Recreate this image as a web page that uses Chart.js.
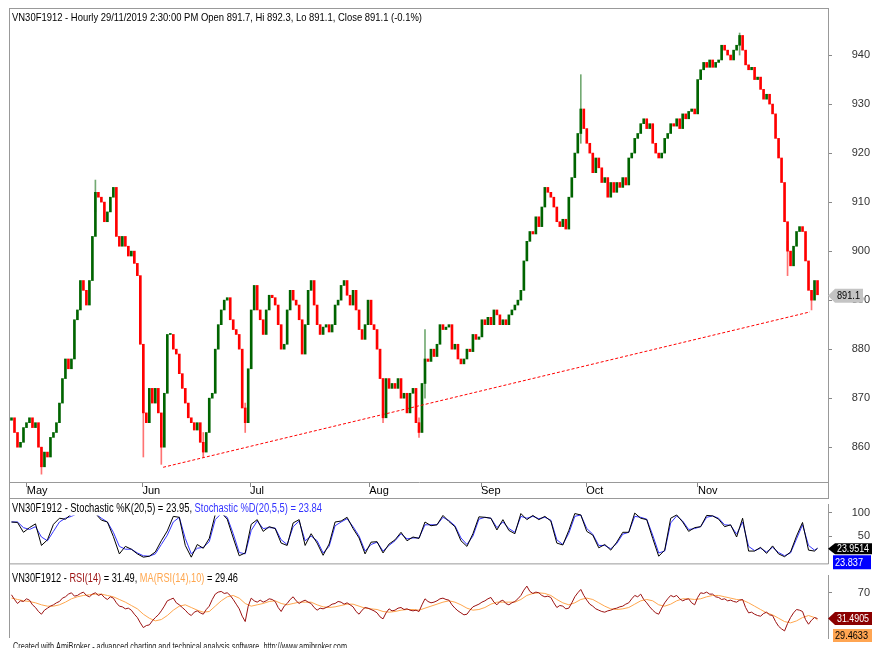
<!DOCTYPE html>
<html>
<head>
<meta charset="utf-8">
<script src="https://cdn.jsdelivr.net/npm/chart.js@4.4.1/dist/chart.umd.min.js"></script>
<style>
html, body { margin: 0; padding: 0; background: #fff; }
#wrap { position: relative; width: 881px; height: 648px; overflow: hidden; background: #fff; }
.pane { position: absolute; left: 0; width: 881px; }
</style>
</head>
<body>
<div id="wrap">
  <div class="pane" style="top:0;height:499px"><canvas id="priceChart"></canvas></div>
  <div class="pane" style="top:498px;height:72px"><canvas id="stochChart"></canvas></div>
  <div class="pane" style="top:569px;height:79px"><canvas id="rsiChart"></canvas></div>
</div>
<script>
// hourly bars, one entry per bar
const firstOpen = 865.5;
const closes = [
  866, 863, 860, 861, 864, 865, 866, 864, 865, 860,
  856, 859, 858, 862, 863, 865, 869, 874, 878, 876,
  878, 886, 888, 894, 892, 889, 894, 903, 912, 911,
  910, 906, 908, 911, 913, 903, 901, 903, 901, 899,
  900, 897.5, 895, 881, 867, 865, 872, 869, 872, 867,
  860, 871, 883, 883, 880, 879, 875, 872, 869, 866,
  865, 863.5, 865, 861, 859, 863, 870, 871, 880, 885,
  888, 890, 890.5, 886, 884, 883, 880, 868, 865, 876,
  888, 893, 888, 886, 883, 888, 891, 890.5, 889, 885,
  880, 881, 888, 892, 890, 889, 886, 879, 885, 892,
  894, 889, 885, 883, 884.5, 885, 883.5, 885, 889, 890,
  893, 894, 891, 889, 892, 888, 884, 882, 885, 890,
  885, 884, 880, 874, 866, 874, 872, 873, 872, 874,
  870, 871, 867, 871, 872, 865, 863, 873, 878, 877.5,
  880, 878.5, 881, 885, 884, 884.5, 885, 880, 881, 878,
  877, 878, 880, 879.5, 883, 882, 882.5, 886, 885, 886.5,
  885, 888, 887, 885, 886, 885, 887, 888, 889, 890,
  892, 898, 902, 904, 903.5, 907, 905, 909, 913, 912,
  911, 909, 906, 905, 906.5, 904.5, 911, 915, 920, 924,
  929, 925, 922, 920, 916, 919, 917, 914, 915, 911,
  914, 912, 914, 913, 915, 913.5, 919, 920, 923, 924,
  926, 927, 925, 926, 922, 920, 919, 920, 923, 924,
  926, 925.5, 927, 925, 928, 927, 928.5, 929, 928, 935,
  937, 938.5, 937.5, 939, 937.5, 938.5, 939, 942, 941, 940,
  939, 941, 942, 944, 941, 938, 937, 937.5, 935, 935.5,
  933, 931, 932, 930, 928, 923, 919, 914, 906, 900,
  897, 901, 904, 905, 904, 898, 892, 890, 894, 891.1
];

// the longer wicks that stand out
const wickBars = [10, 28, 44, 50, 64, 78, 124, 136, 138, 190, 243, 259, 267];
const wickHi   = [860, 914.5, 872, 862, 863, 869, 874, 866, 884, 936, 944.5, 902, 892];
const wickLo   = [854.5, 908, 858, 856.5, 858, 863, 865, 862, 870, 922, 940, 895, 888];

const monthLabels = ['May', 'Jun', 'Jul', 'Aug', 'Sep', 'Oct', 'Nov'];
const monthBars = [5.1, 43.7, 79.6, 119.4, 156.7, 191.8, 229.1];
const priceTicks = [860, 870, 880, 890, 900, 910, 920, 930, 940];

// support line
const trendBars = [50.6, 266.5];
const trendVals = [855.9, 887.6];

// stochastic, sampled every second bar plus the last bar
const stochK = [
  80, 79, 58, 68, 76, 30, 42, 75, 88, 86,
  97, 100, 96, 102, 98, 84, 80, 49, 12, 28,
  22, 12, 5, 7, 16, 40, 61, 92, 90, 30,
  5, 32, 24, 45, 96, 100, 86, 46, 8, 14,
  75, 85, 60, 70, 66, 35, 30, 78, 85, 30,
  55, 35, 9, 33, 80, 82, 90, 66, 46, 12,
  37, 38, 14, 33, 42, 58, 40, 48, 45, 80,
  72, 74, 94, 81, 70, 40, 28, 55, 91, 90,
  88, 63, 85, 62, 55, 98, 85, 94, 85, 92,
  82, 35, 31, 62, 98, 95, 60, 52, 25, 32,
  20, 37, 58, 58, 99, 88, 85, 45, 7, 20,
  88, 95, 80, 60, 68, 70, 94, 93, 86, 70,
  74, 48, 88, 18, 18, 26, 13, 29, 12, 6,
  16, 50, 79, 20, 18, 23.95
];
const stochD = [
  80, 80, 68, 64, 70, 48, 40, 60, 80, 88,
  92, 98, 98, 99, 98, 88, 80, 58, 28, 22,
  22, 14, 8, 7, 12, 32, 52, 80, 90, 45,
  12, 24, 26, 38, 85, 98, 90, 55, 15, 12,
  62, 82, 66, 68, 67, 42, 32, 70, 82, 40,
  50, 40, 14, 28, 72, 80, 87, 70, 50, 18,
  32, 37, 18, 30, 40, 55, 44, 46, 46, 74,
  74, 74, 90, 83, 72, 46, 32, 50, 86, 90,
  88, 68, 80, 66, 58, 92, 88, 92, 87, 90,
  84, 42, 32, 56, 92, 95, 66, 54, 30, 30,
  23, 34, 54, 58, 92, 90, 86, 52, 14, 18,
  78, 93, 82, 64, 66, 70, 90, 93, 88, 74,
  73, 54, 80, 28, 19, 24, 16, 26, 15, 8,
  14, 44, 74, 30, 20, 23.84
];
const stochTicks = [50, 100];

// RSI(14), one value per bar
const rsi = [
  67, 60, 54, 58, 57, 61, 59, 52, 48, 42,
  38, 44, 47, 50, 52, 55, 57, 62, 64, 68,
  70, 65, 66, 69, 71, 66, 64, 68, 70, 66,
  68, 63, 60, 64, 62, 55, 50, 49, 46, 47,
  44, 38, 33, 25, 18, 21, 22, 28, 33, 37,
  43, 50, 58, 60, 62, 55, 52, 48, 44, 39,
  36, 41, 43, 40, 38, 45, 50, 60, 68, 71,
  72, 69, 70, 66, 60, 53, 46, 35, 27, 50,
  62, 58, 56, 59, 56, 58, 61, 60, 57, 48,
  42, 50, 54, 60, 64, 58, 54, 57, 59, 56,
  54, 48, 44, 47, 46, 48, 50, 53, 54, 57,
  56, 53, 55, 52, 49, 42, 38, 44, 48, 47,
  45, 43, 40, 34, 31, 40, 46, 43, 44, 47,
  48, 45, 46, 44, 43, 44, 42, 52, 61, 57,
  55, 56, 58, 61, 62, 60, 59, 52, 47, 43,
  40, 37, 38, 44, 49, 51, 53, 56, 58, 61,
  63, 56, 52, 57, 59, 54, 52, 55, 57, 61,
  66, 74, 80, 72, 69, 71, 70, 66, 64, 65,
  63, 55, 48, 51, 50, 46, 47, 55, 64, 70,
  75, 66, 59, 53, 50, 46, 44, 42, 41, 43,
  44, 46, 47, 49, 50, 53, 55, 61, 66, 64,
  68, 60, 55, 49, 44, 40, 38, 47, 55, 61,
  66, 64, 66, 61, 58, 60, 61, 55, 52, 63,
  70, 69, 71, 68, 68, 64, 63, 60, 61, 58,
  59, 57, 56, 59, 60, 48, 40, 41, 38, 36,
  35, 39, 41, 37, 36, 27, 20, 16, 13, 24,
  33, 40, 45, 44, 42, 30, 23, 29, 33, 31.49
];
// MA(RSI(14),10), sampled like the stochastic
const rsiMa = [
  62, 60, 58, 57, 55, 52, 50, 50, 52, 56,
  61, 64, 66, 67, 68, 68, 66, 64, 60, 56,
  51, 46, 38, 32, 28, 30, 36, 44, 50, 52,
  48, 44, 41, 42, 50, 58, 64, 66, 62, 54,
  50, 52, 54, 57, 58, 54, 52, 54, 56, 56,
  56, 52, 49, 48, 49, 51, 53, 53, 50, 47,
  46, 45, 42, 41, 42, 44, 45, 45, 44, 47,
  50, 53, 56, 58, 56, 52, 47, 44, 45, 48,
  53, 56, 56, 56, 56, 60, 66, 69, 70, 69,
  66, 60, 55, 52, 55, 60, 62, 60, 55, 50,
  46, 45, 46, 48, 53, 58, 60, 58, 52, 50,
  53, 58, 61, 61, 60, 61, 64, 66, 66, 64,
  62, 60, 59, 55, 50, 45, 40, 37, 32, 27,
  25, 28, 33, 36, 33, 29.46
];
const rsiTicks = [70];

const FONT = '"Liberation Sans", Arial, sans-serif';
const LINE = '#999999';
const UP = '#006400', DOWN = '#ff0000';
const X_MIN = -0.5, X_MAX = 272.5;
const LEFT = 9.5, RIGHT = 828.5;

Chart.defaults.font.family = FONT;
Chart.defaults.font.size = 11;

const lastBar = closes.length - 1;
const sampleBars = stochK.map((v, k) => k < stochK.length - 1 ? k * 2 : lastBar);
const sampled = (vals) => vals.map((v, k) => ({ x: sampleBars[k], y: v }));
const perBar = (vals) => vals.map((v, i) => ({ x: i, y: v }));

const opens = closes.map((c, i) => i === 0 ? firstOpen : closes[i - 1]);
const candles = closes.map((c, i) => ({ x: i, y: [opens[i], c] }));
const candleColors = closes.map((c, i) => c >= opens[i] ? UP : DOWN);
const wicks = wickBars.map((b, k) => ({ x: b, y: [wickLo[k], wickHi[k]] }));
const wickColors = wickBars.map(b => closes[b] >= opens[b] ? 'rgba(0,100,0,0.55)' : 'rgba(255,0,0,0.55)');

// text squeezed to the width it takes in the picture
function drawParts(ctx, parts, x, y, width, size, bg) {
  ctx.save();
  ctx.font = size + 'px ' + FONT;
  let natural = 0;
  parts.forEach(p => natural += ctx.measureText(p[0]).width);
  if (bg) {
    ctx.fillStyle = '#fff';
    ctx.fillRect(x - 1, y - size / 2 - 1, width + 3, size + 2);
  }
  ctx.translate(x, y);
  ctx.scale(width / natural, 1);
  ctx.textBaseline = 'middle';
  let cx = 0;
  parts.forEach(p => {
    ctx.fillStyle = p[1];
    ctx.fillText(p[0], cx, 0);
    cx += ctx.measureText(p[0]).width;
  });
  ctx.restore();
}

function badge(ctx, top, h, x0, x1, arrow, fill, color, text, tw) {
  ctx.save();
  ctx.fillStyle = fill;
  ctx.beginPath();
  if (arrow) {
    ctx.moveTo(828, top + h / 2);
    ctx.lineTo(x0, top);
  } else {
    ctx.moveTo(x0, top);
  }
  ctx.lineTo(x1, top);
  ctx.lineTo(x1, top + h);
  ctx.lineTo(x0, top + h);
  ctx.closePath();
  ctx.fill();
  ctx.restore();
  drawParts(ctx, [[text, color]], x0 + 2, top + h / 2 + 0.5, tw, 11, false);
}

function hline(ctx, y, x0, x1) {
  ctx.beginPath();
  ctx.moveTo(x0, y);
  ctx.lineTo(x1, y);
  ctx.stroke();
}
function vline(ctx, x, y0, y1) {
  ctx.beginPath();
  ctx.moveTo(x, y0);
  ctx.lineTo(x, y1);
  ctx.stroke();
}

// right-hand value axis: labels end at x = 870
function yAxis(min, max, ticks) {
  return {
    position: 'right',
    min: min,
    max: max,
    afterBuildTicks: s => { s.ticks = ticks.map(v => ({ value: v })); },
    afterFit: s => { s.width = 42; },
    grid: { drawOnChartArea: false, drawTicks: true, tickLength: 4, color: '#888' },
    border: { color: LINE },
    ticks: { color: '#333', padding: 0, crossAlign: 'far', autoSkip: false, font: { size: 11 } }
  };
}

const layoutFor = (top, bottom) => ({ autoPadding: false, padding: { left: 10, right: 11, top: top, bottom: bottom } });
const hiddenX = () => ({ type: 'linear', min: X_MIN, max: X_MAX, offset: false, display: false });
const lineSet = (data, color) => ({ data: data, borderColor: color, borderWidth: 1, pointRadius: 0, tension: 0 });

// price panel
new Chart(document.getElementById('priceChart'), {
  type: 'bar',
  data: {
    datasets: [
      {
        type: 'line',
        data: trendBars.map((b, k) => ({ x: b, y: trendVals[k] })),
        borderColor: '#ff0000',
        borderWidth: 1,
        borderDash: [3, 2],
        pointRadius: 0
      },
      {
        data: candles,
        backgroundColor: candleColors,
        barThickness: 2,
        minBarLength: 1,
        borderWidth: 0
      },
      {
        data: wicks,
        backgroundColor: wickColors,
        barThickness: 1,
        borderWidth: 0
      }
    ]
  },
  options: {
    animation: false,
    responsive: true,
    maintainAspectRatio: false,
    layout: layoutFor(8, 1),
    datasets: { bar: { grouped: false } },
    plugins: { legend: { display: false }, tooltip: { enabled: false } },
    scales: {
      x: {
        type: 'linear',
        min: X_MIN,
        max: X_MAX,
        offset: false,
        afterBuildTicks: s => { s.ticks = monthBars.map(v => ({ value: v })); },
        afterFit: s => { s.height = 16; },
        grid: { offset: false, drawOnChartArea: false, drawTicks: true, tickLength: 5, color: '#888' },
        border: { color: LINE },
        ticks: {
          align: 'start',
          padding: -3,
          color: '#000',
          maxRotation: 0,
          autoSkip: false,
          callback: (v, i) => monthLabels[i]
        }
      },
      y: yAxis(852.9, 949.6, priceTicks)
    }
  },
  plugins: [{
    id: 'priceFrame',
    afterDraw(chart) {
      const ctx = chart.ctx;
      const y = chart.scales.y;
      ctx.save();
      ctx.strokeStyle = LINE;
      ctx.lineWidth = 1;
      hline(ctx, 8.5, LEFT, RIGHT);
      vline(ctx, LEFT, 8, 499);
      vline(ctx, RIGHT, 482, 499);
      hline(ctx, 498.5, LEFT, RIGHT);
      ctx.restore();
      drawParts(ctx, [['VN30F1912 - Hourly 29/11/2019 2:30:00 PM Open 891.7, Hi 892.3, Lo 891.1, Close 891.1 (-0.1%)', '#000']],
        12, 18, 410, 11, false);
      const last = closes[lastBar];
      const py = y.getPixelForValue(last);
      badge(ctx, py - 6, 14, 835, 863, true, '#c4c4c4', '#000', last.toFixed(1), 23);
    }
  }]
});

// stochastic panel
new Chart(document.getElementById('stochChart'), {
  type: 'line',
  data: {
    datasets: [
      lineSet(sampled(stochK), '#000000'),
      lineSet(sampled(stochD), '#3333ff')
    ]
  },
  options: {
    animation: false,
    responsive: true,
    maintainAspectRatio: false,
    layout: layoutFor(0, 1),
    plugins: { legend: { display: false }, tooltip: { enabled: false } },
    scales: { x: hiddenX(), y: yAxis(-8.3, 117.1, stochTicks) }
  },
  plugins: [{
    id: 'stochFrame',
    afterDraw(chart) {
      const ctx = chart.ctx;
      const y = chart.scales.y;
      const a = chart.chartArea;
      ctx.save();
      ctx.strokeStyle = LINE;
      ctx.lineWidth = 1;
      vline(ctx, LEFT, 0, 72);
      hline(ctx, a.bottom + 0.5, LEFT, RIGHT);
      ctx.restore();
      drawParts(ctx, [
        ['VN30F1912 - Stochastic %K(20,5) = 23.95, ', '#000'],
        ['Stochastic %D(20,5,5) = 23.84', '#3333ff']
      ], 12, 10.5, 310, 12, true);
      const ky = y.getPixelForValue(stochK[stochK.length - 1]);
      badge(ctx, ky - 5, 11, 835, 872, true, '#000000', '#fff', '23.9514', 32);
      badge(ctx, ky + 7, 14, 833, 871, false, '#0000ff', '#fff', '23.837', 28);
    }
  }]
});

// RSI panel
new Chart(document.getElementById('rsiChart'), {
  type: 'line',
  data: {
    datasets: [
      lineSet(perBar(rsi), '#9b1111'),
      lineSet(sampled(rsiMa), '#ffa64d')
    ]
  },
  options: {
    animation: false,
    responsive: true,
    maintainAspectRatio: false,
    layout: layoutFor(0, 10),
    plugins: { legend: { display: false }, tooltip: { enabled: false } },
    scales: { x: hiddenX(), y: yAxis(2.4, 95.7, rsiTicks) }
  },
  plugins: [{
    id: 'rsiFrame',
    afterDraw(chart) {
      const ctx = chart.ctx;
      const y = chart.scales.y;
      ctx.save();
      ctx.strokeStyle = LINE;
      ctx.lineWidth = 1;
      vline(ctx, LEFT, 0, 69);
      ctx.restore();
      drawParts(ctx, [
        ['VN30F1912 - ', '#000'],
        ['RSI(14)', '#9b1111'],
        [' = 31.49, ', '#000'],
        ['MA(RSI(14),10)', '#ffa64d'],
        [' = 29.46', '#000']
      ], 12, 9.5, 226, 12, true);
      const ry = y.getPixelForValue(rsi[lastBar]);
      badge(ctx, ry - 6.5, 13, 835, 872, true, '#8b0000', '#fff', '31.4905', 32);
      badge(ctx, ry + 10.5, 13, 833, 872, false, '#ffa552', '#000', '29.4633', 33);
      drawParts(ctx, [['Created with AmiBroker - advanced charting and technical analysis software. http://www.amibroker.com', '#222']],
        13, 77.5, 334, 11, false);
    }
  }]
});
</script>
</body>
</html>
